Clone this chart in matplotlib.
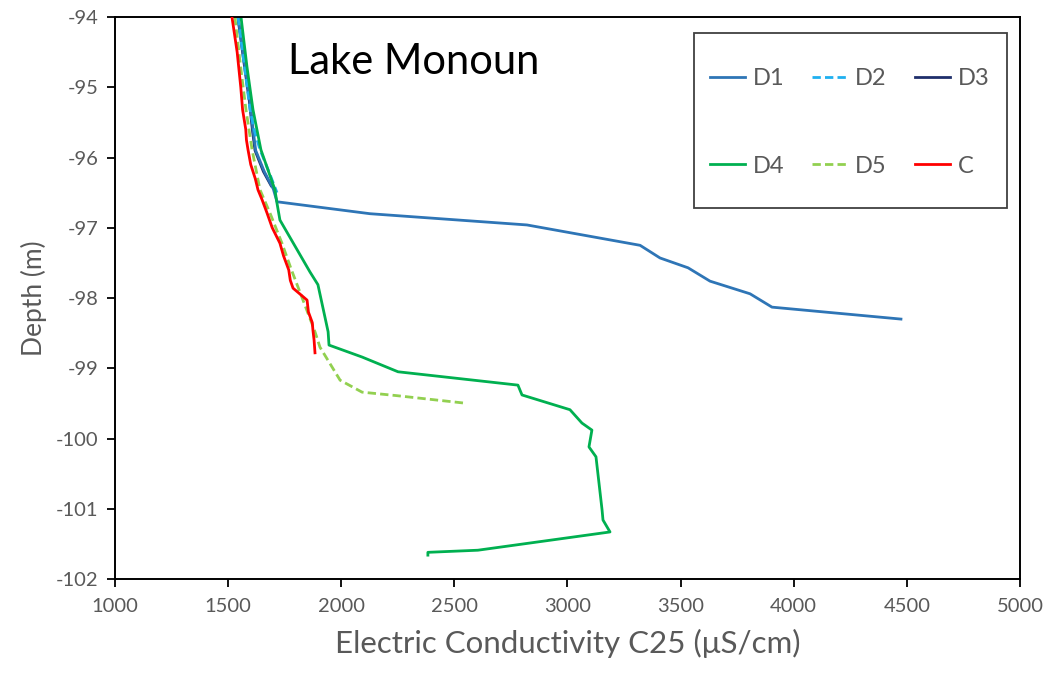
import matplotlib
matplotlib.use("Agg")
import matplotlib.pyplot as plt
from matplotlib.patches import Rectangle

plt.rcParams['font.family'] = ['Lato', 'DejaVu Sans']
plt.rcParams['axes.unicode_minus'] = False

# Depth profiles of electric conductivity (C25, µS/cm) at Lake Monoun
d1_depth = [-94.0, -94.6, -95.2, -95.6, -95.9, -96.2, -96.45, -96.63, -96.8, -96.96,
            -97.25, -97.43, -97.57, -97.76, -97.94, -98.13, -98.30]
d1_ec = [1544, 1570, 1597, 1610, 1622, 1660, 1700, 1716, 2127, 2821,
         3321, 3409, 3533, 3630, 3807, 3904, 4474]

d2_depth = [-94.0, -94.7, -95.32, -95.6, -95.89, -96.2, -96.5]
d2_ec = [1544, 1572, 1597, 1615, 1641, 1680, 1716]

d3_depth = [-94.0, -94.6, -95.2, -95.6, -95.9, -96.2, -96.4]
d3_ec = [1543, 1568, 1594, 1607, 1619, 1656, 1690]

d4_depth = [-94.0, -94.7, -95.32, -95.89, -96.46, -96.65, -96.89, -97.63, -97.81,
            -98.48, -98.67, -98.84, -99.05, -99.24, -99.38, -99.59, -99.78,
            -99.88, -100.12, -100.26, -101.02, -101.16, -101.33, -101.59,
            -101.62, -101.66]
d4_ec = [1557, 1583, 1610, 1645, 1707, 1716, 1729, 1862, 1897,
         1942, 1946, 2092, 2251, 2781, 2799, 3011, 3064,
         3108, 3095, 3126, 3153, 3157, 3188, 2604,
         2383, 2383]

d5_depth = [-94.0, -94.7, -95.32, -95.89, -96.46, -96.79, -97.22, -97.6, -98.03,
            -98.48, -98.70, -99.17, -99.34, -99.39, -99.50]
d5_ec = [1530, 1555, 1579, 1606, 1641, 1685, 1738, 1780, 1831,
         1884, 1906, 1995, 2092, 2246, 2556]

c_depth = [-94.0, -94.5, -95.0, -95.32, -95.6, -95.75, -95.89, -96.1, -96.3,
           -96.46, -96.6, -96.79, -97.0, -97.22, -97.4, -97.6, -97.75, -97.86,
           -97.95, -98.03, -98.2, -98.35, -98.46, -98.6, -98.78]
c_ec = [1517, 1540, 1556, 1564, 1578, 1581, 1588, 1600, 1620,
        1632, 1650, 1672, 1695, 1729, 1745, 1768, 1775, 1787,
        1820, 1849, 1855, 1872, 1875, 1880, 1884]

# name, x, y, colour, line style, drawing order
series = [
    ("D1", d1_ec, d1_depth, "#2E75B6", "-", 2.2),
    ("D2", d2_ec, d2_depth, "#1FB0F0", (0, (3.0, 1.5)), 2.3),
    ("D3", d3_ec, d3_depth, "#1F2F6B", "-", 2.0),
    ("D4", d4_ec, d4_depth, "#00B050", "-", 2.4),
    ("D5", d5_ec, d5_depth, "#92D050", (0, (3.0, 1.5)), 2.5),
    ("C", c_ec, c_depth, "#FF0000", "-", 2.6),
]

fig = plt.figure(figsize=(10.54, 6.80), dpi=100)
ax = fig.add_axes([0.1091, 0.1485, 0.8586, 0.8265])

lines = {}
for name, x, y, color, ls, z in series:
    lines[name], = ax.plot(x, y, color=color, linestyle=ls, linewidth=2.0,
                           label=name, zorder=z)

ax.set_xlim(1000, 5000)
ax.set_ylim(-102, -94)
ax.set_xticks(range(1000, 5001, 500))
ax.set_yticks(range(-102, -93))

for s in ax.spines.values():
    s.set_color("black")
    s.set_linewidth(1.4)

ax.tick_params(axis="both", direction="out", length=6, width=1.3, color="black",
               labelsize=14.5, labelcolor="#595959")
ax.tick_params(axis="x", pad=8)
ax.tick_params(axis="y", pad=6)

ax.set_xlabel("Electric Conductivity C25 (\u03bcS/cm)", fontsize=22.5, color="#595959", labelpad=10)
ax.set_ylabel("Depth (m)", fontsize=19, color="#595959", labelpad=6)

ax.text(0.191, 0.92, "Lake Monoun", transform=ax.transAxes, fontsize=30,
        color="black", ha="left", va="center")

# Legend box
ax.add_patch(Rectangle((0.6398, 0.6601), 0.9856 - 0.6398, 0.9715 - 0.6601,
                       transform=ax.transAxes, facecolor="white",
                       edgecolor="#404040", linewidth=1.3, zorder=5))
# entries ordered so the three-column legend reads row by row
order = ["D1", "D4", "D2", "D5", "D3", "C"]
leg = ax.legend([lines[k] for k in order], order, ncol=3, loc="upper left",
                bbox_to_anchor=(0.6575, 0.909),
                frameon=False, fontsize=17, handlelength=1.5, handletextpad=0.3,
                columnspacing=1.2, labelspacing=2.82, borderpad=0, borderaxespad=0)
leg.set_zorder(6)
for t in leg.get_texts():
    t.set_color("#595959")

fig.savefig("out.png", dpi=100, facecolor="white")
